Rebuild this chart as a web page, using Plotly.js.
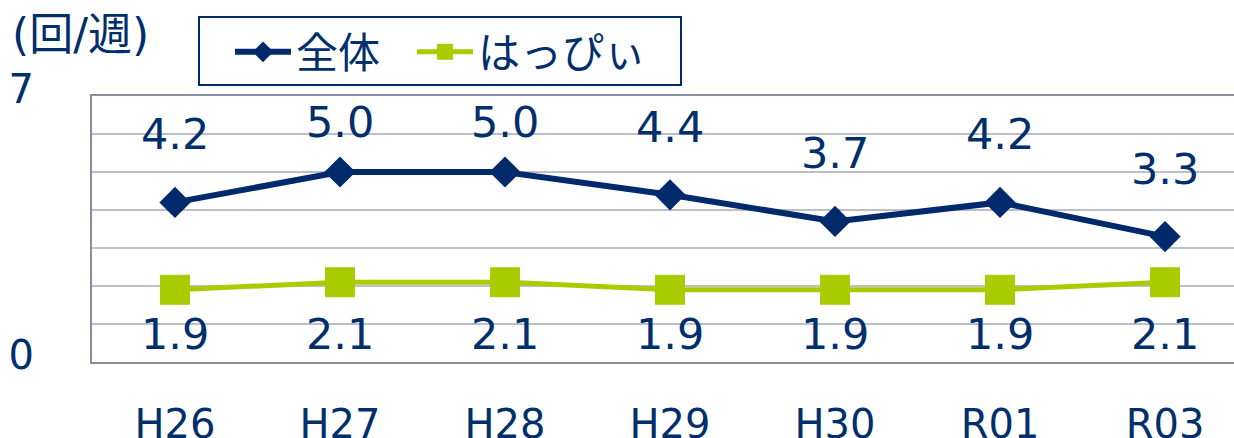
<!DOCTYPE html>
<html><head><meta charset="utf-8">
<script src="https://cdn.plot.ly/plotly-3.0.1.min.js"></script>
<style>html,body{margin:0;padding:0;background:#fff}#c{width:1234px;height:438px}</style>
</head><body><div id="c"></div>
<script>
const categories = ['H26','H27','H28','H29','H30','R01','R03'];
const zentai = [4.2, 5.0, 5.0, 4.4, 3.7, 4.2, 3.3];
const happy = [1.9, 2.1, 2.1, 1.9, 1.9, 1.9, 2.1];
const seriesNames = ['全体', 'はっぴぃ'];
const yTickVals = [0,1,2,3,4,5,6,7];
const yTickText = ['0','','','','','','','7'];

const NAVY = '#002a6b';
const TEXT = '#002f6c';
const GREEN = '#a9cc00';
const FONT = 'DejaVu Sans, Noto Sans CJK JP, sans-serif';

const traces = [
  {x: categories, y: zentai, name: seriesNames[0], type: 'scatter', mode: 'lines+markers', legend: 'legend',
   line: {color: NAVY, width: 6}, marker: {symbol: 'diamond', size: 24, color: NAVY}},
  {x: categories, y: happy, name: seriesNames[1], type: 'scatter', mode: 'lines+markers', legend: 'legend2',
   line: {color: GREEN, width: 5}, marker: {symbol: 'square', size: 30, color: GREEN}}
];

const annotations = [];
zentai.forEach((v, i) => annotations.push({
  x: categories[i], y: Math.min(v + 1.79, 6.32), text: v.toFixed(1), showarrow: false,
  font: {family: FONT, size: 43, color: TEXT}, yanchor: 'middle'
}));
happy.forEach((v, i) => annotations.push({
  x: categories[i], y: 0.74, text: v.toFixed(1), showarrow: false,
  font: {family: FONT, size: 43, color: TEXT}, yanchor: 'middle'
}));
annotations.push({xref: 'paper', yref: 'paper', x: -0.072, y: 1.23, xanchor: 'left', yanchor: 'middle',
  text: '(回/週)', showarrow: false, font: {family: FONT, size: 44, color: TEXT}});

const legendBase = {orientation: 'h', xref: 'container', yref: 'container', y: 1 - 18/438,
  xanchor: 'left', yanchor: 'top', borderwidth: 0, bgcolor: 'rgba(0,0,0,0)',
  font: {family: FONT, size: 42, color: TEXT}, itemwidth: 56};

const layout = {
  width: 1234, height: 438,
  margin: {l: 92, r: 0, t: 96, b: 76},
  paper_bgcolor: '#fff', plot_bgcolor: '#fff',
  font: {family: FONT, color: TEXT},
  showlegend: true,
  legend: Object.assign({}, legendBase, {x: 230/1234}),
  legend2: Object.assign({}, legendBase, {x: 412/1234}),
  shapes: [{type: 'rect', xref: 'paper', yref: 'paper',
    x0: (199-92)/1142, x1: (681-92)/1142, y0: (362-85)/266, y1: (362-17)/266,
    line: {color: NAVY, width: 2}, fillcolor: '#fff', layer: 'below'}],
  xaxis: {type: 'category', range: [-0.503, 6.418], showgrid: false, zeroline: false,
    showline: true, linecolor: '#8a8e9e', linewidth: 2, mirror: true,
    ticks: '', ticklabelstandoff: 26, tickfont: {family: FONT, size: 40, color: TEXT}, fixedrange: true},
  yaxis: {range: [0, 7], tickvals: yTickVals, ticktext: yTickText, showgrid: true,
    gridcolor: '#bcbfca', gridwidth: 2, zeroline: false, showline: true, linecolor: '#8a8e9e', linewidth: 2,
    ticks: '', ticklabelstandoff: 48, ticklabelshift: -7, tickfont: {family: FONT, size: 40, color: TEXT}},
  annotations: annotations
};
Plotly.newPlot('c', traces, layout, {displayModeBar: false, staticPlot: true});
</script></body></html>
